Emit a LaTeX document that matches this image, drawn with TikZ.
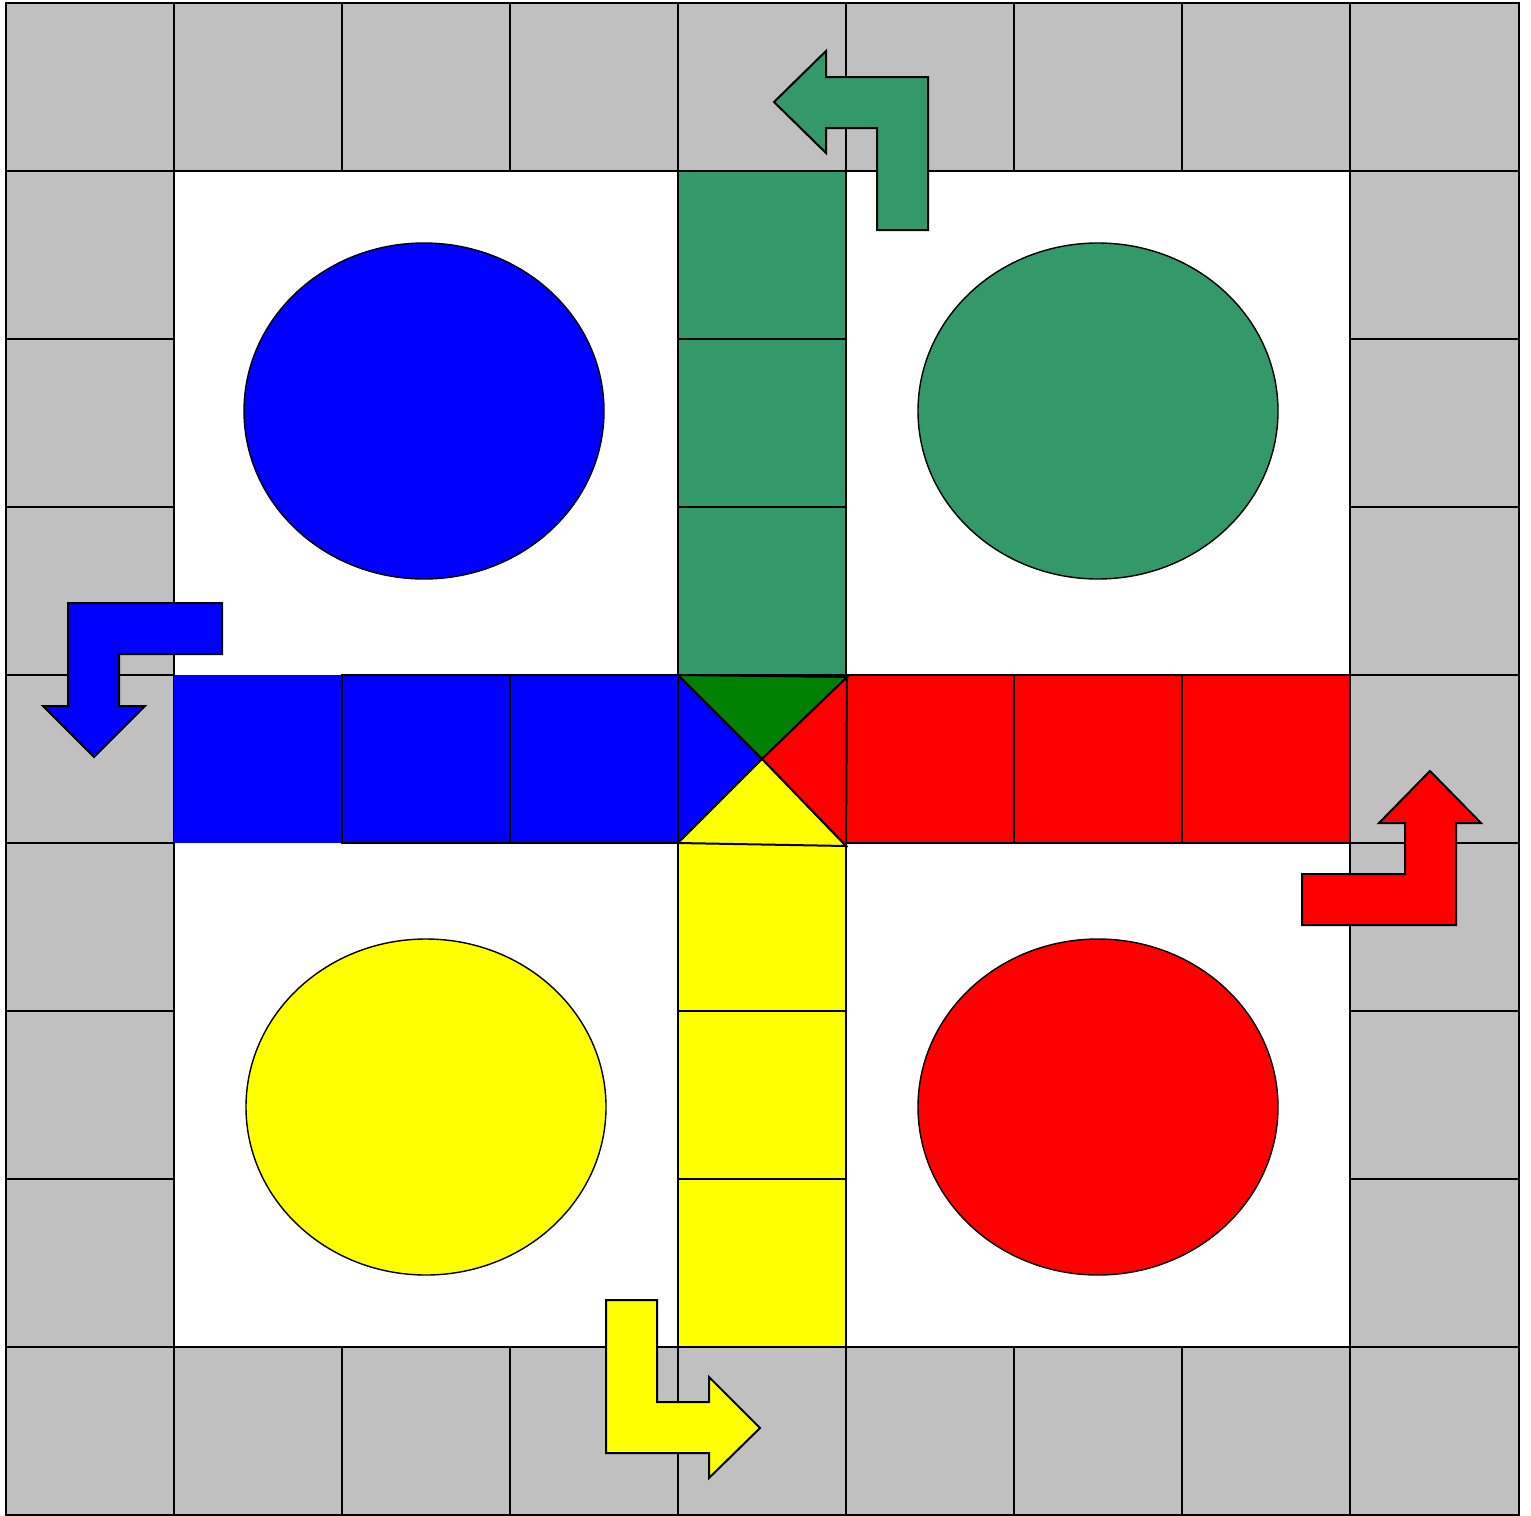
\documentclass[tikz,border=0pt]{standalone}
\definecolor{cellgray}{HTML}{C0C0C0}
\definecolor{ludogreen}{HTML}{349968}
\definecolor{homegreen}{HTML}{008000}
\definecolor{ludoyellow}{RGB}{255,255,0}
\definecolor{ludoblue}{RGB}{0,0,255}
\definecolor{ludored}{RGB}{255,0,0}
\begin{document}
\begin{tikzpicture}[x=0.5pt,y=-0.5pt,line width=1pt,line join=miter,
  graycell/.style={fill=cellgray,draw=black},
  track/.style={draw=black},
  disc/.style={draw=black,line width=0.7pt},
  turnarrow/.style={draw=black,line width=1pt}]
\useasboundingbox (0,0) rectangle (1531,1515);
\fill[white] (0,0) rectangle (1531,1515);
% border cells
\foreach \a/\b in {6/174,174/342,342/510,510/678,678/846,846/1014,1014/1182,1182/1350,1350/1519}{
  \filldraw[graycell] (\a,3) rectangle (\b,171);
  \filldraw[graycell] (\a,1347) rectangle (\b,1515);
}
\foreach \a/\b in {171/339,339/507,507/675,675/843,843/1011,1011/1179,1179/1347}{
  \filldraw[graycell] (6,\a) rectangle (174,\b);
  \filldraw[graycell] (1350,\a) rectangle (1519,\b);
}
% blue track
\fill[ludoblue] (174,675) rectangle (342,843);
\filldraw[track,fill=ludoblue] (342,675) rectangle (510,843);
\filldraw[track,fill=ludoblue] (510,675) rectangle (678,843);
% green track
\filldraw[track,fill=ludogreen] (678,171) rectangle (846,339);
\filldraw[track,fill=ludogreen] (678,339) rectangle (846,507);
\filldraw[track,fill=ludogreen] (678,507) rectangle (846,675);
% red track
\filldraw[track,fill=ludored] (846,675) rectangle (1014,843);
\filldraw[track,fill=ludored] (1014,675) rectangle (1182,843);
\filldraw[track,fill=ludored] (1182,675) rectangle (1350,843);
% yellow track
\filldraw[track,fill=ludoyellow] (678,843) rectangle (846,1011);
\filldraw[track,fill=ludoyellow] (678,1011) rectangle (846,1179);
\filldraw[track,fill=ludoyellow] (678,1179) rectangle (846,1347);
% centre
\filldraw[track,fill=homegreen] (678,675) -- (847,677) -- (762,759) -- cycle;
\filldraw[track,fill=ludoblue] (678,675) -- (762,759) -- (678,843) -- cycle;
\filldraw[track,fill=ludored] (847,677) -- (846,846) -- (762,759) -- cycle;
\filldraw[track,fill=ludoyellow] (678,843) -- (846,846) -- (762,759) -- cycle;
% home discs
\filldraw[disc,fill=ludoblue] (424,411) ellipse [x radius=180,y radius=168];
\filldraw[disc,fill=ludogreen] (1098,411) ellipse [x radius=180,y radius=168];
\filldraw[disc,fill=ludoyellow] (426,1107) ellipse [x radius=180,y radius=168];
\filldraw[disc,fill=ludored] (1098,1107) ellipse [x radius=180,y radius=168];
% turn arrows
\filldraw[turnarrow,fill=ludogreen] (826,51) -- (774,102) -- (826,153) -- (826,128) -- (877,128) -- (877,230) -- (928,230) -- (928,77) -- (826,77) -- cycle;
\filldraw[turnarrow,fill=ludoblue] (68,603) -- (222,603) -- (222,654) -- (119,654) -- (119,706) -- (145,706) -- (94,757) -- (43,706) -- (68,706) -- cycle;
\filldraw[turnarrow,fill=ludored] (1302,874) -- (1405,874) -- (1405,823) -- (1379,823) -- (1430,771) -- (1481,823) -- (1456,823) -- (1456,925) -- (1302,925) -- cycle;
\filldraw[turnarrow,fill=ludoyellow] (606,1300) -- (657,1300) -- (657,1402) -- (709,1402) -- (709,1377) -- (760,1428) -- (709,1478) -- (709,1453) -- (606,1453) -- cycle;
\end{tikzpicture}
\end{document}
